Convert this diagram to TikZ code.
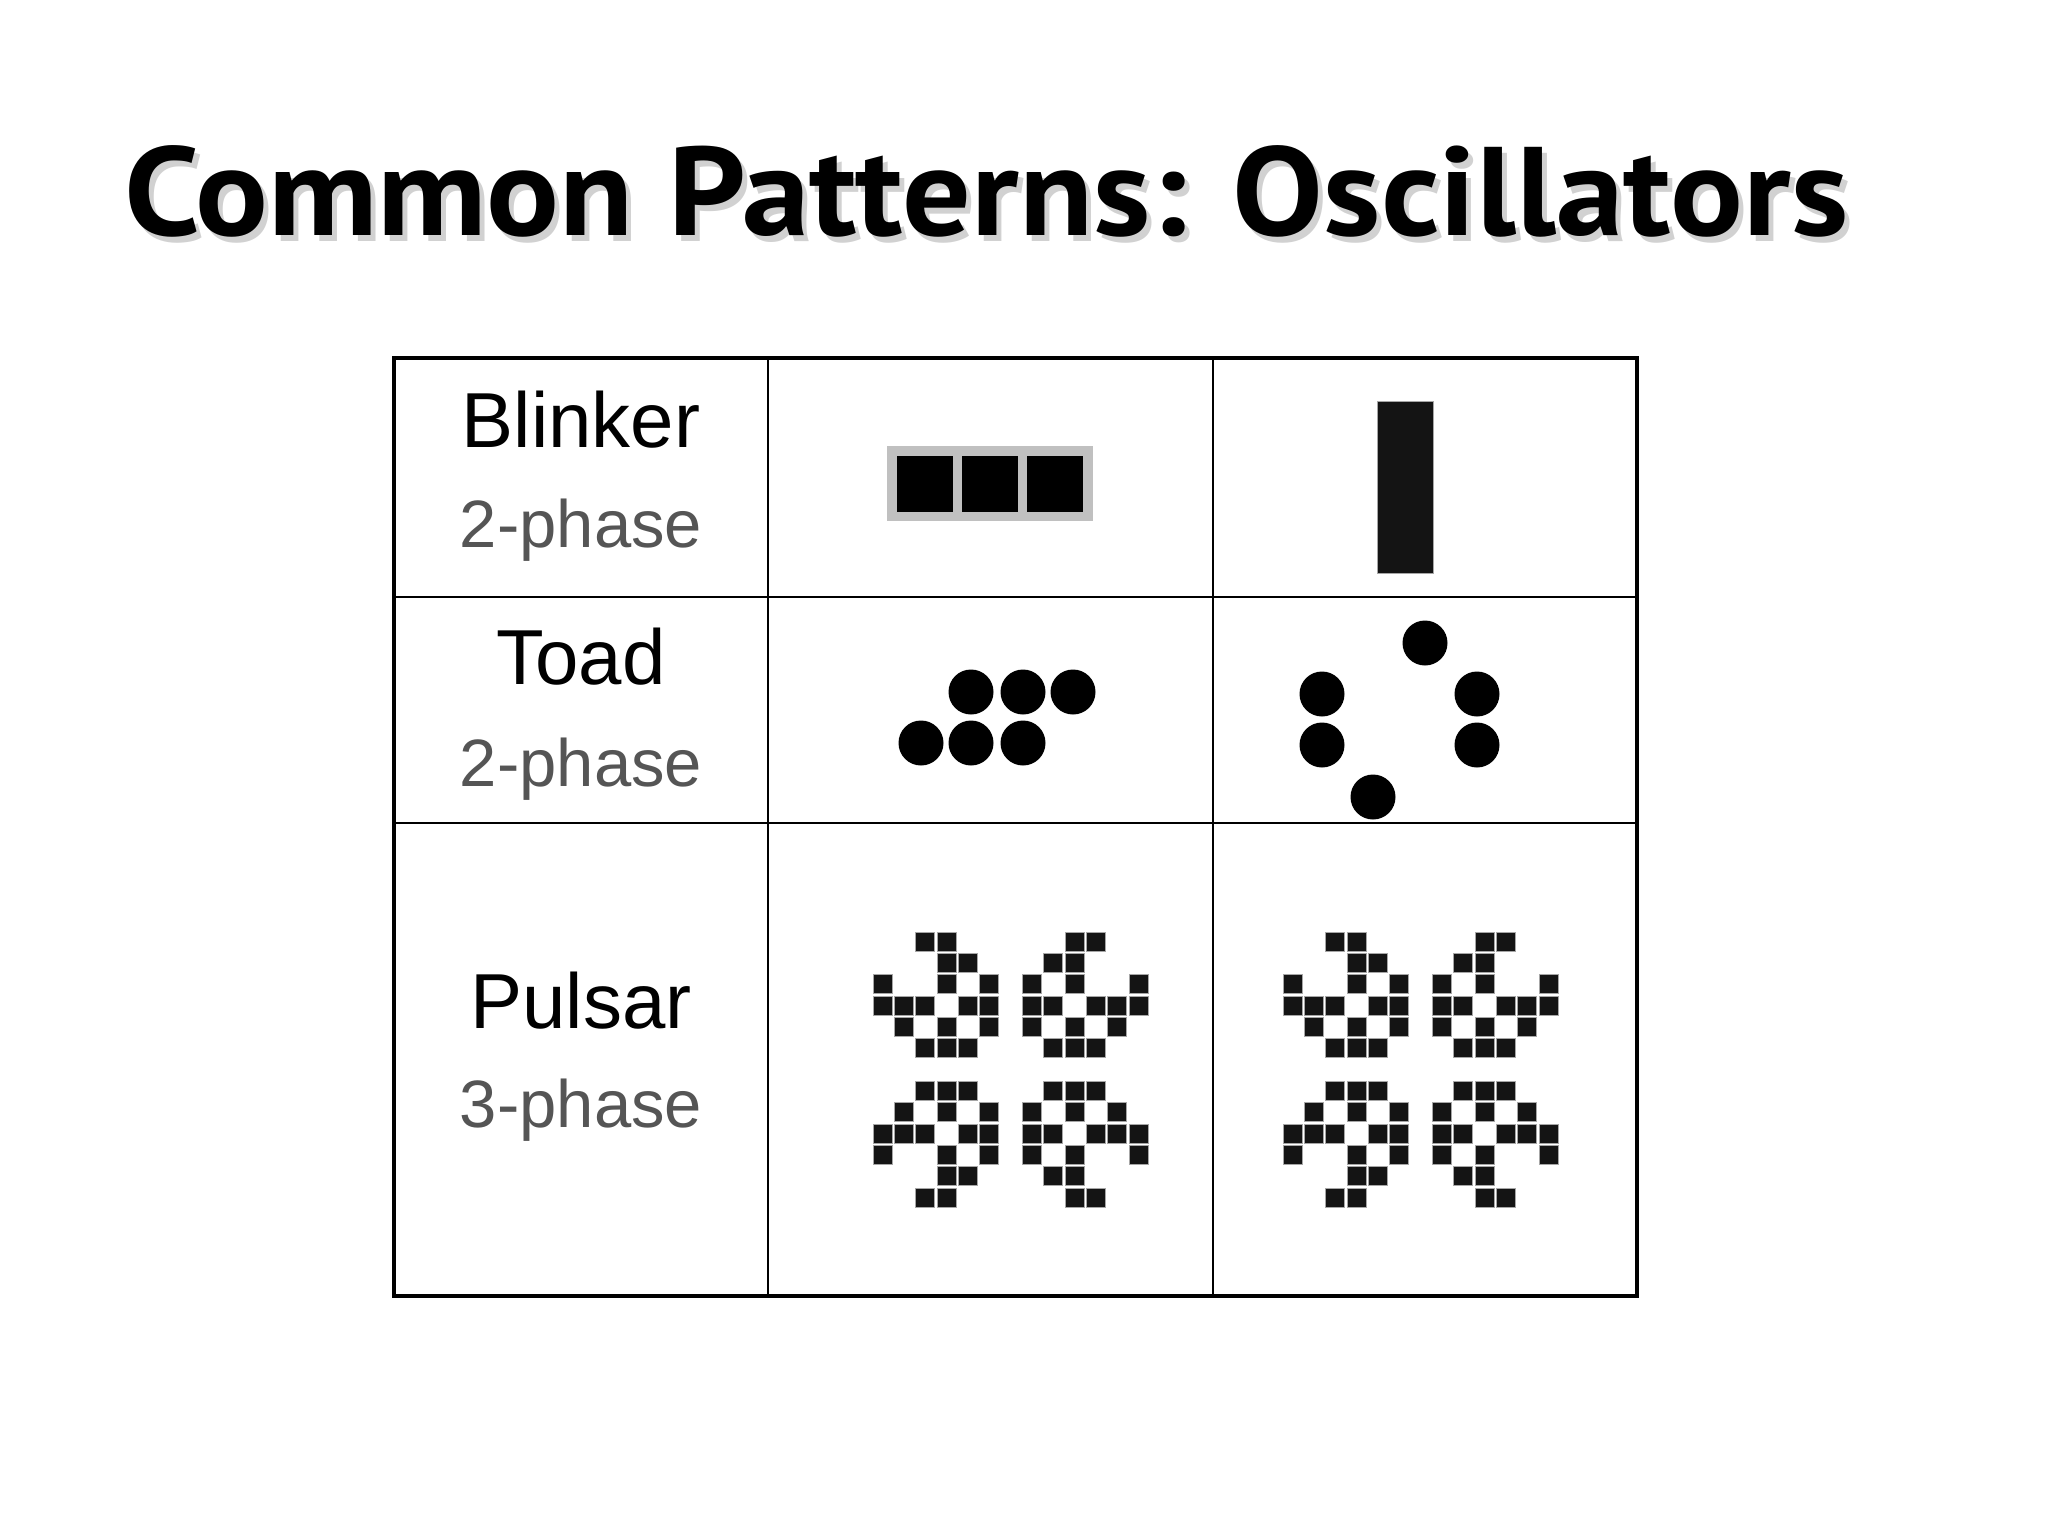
\documentclass[tikz,border=0pt]{standalone}
\usepackage{fontspec}
\usepackage{graphicx}
\setmainfont{Liberation Sans}
\newfontfamily\titlefont{PT Sans}
\usetikzlibrary{positioning}
\definecolor{phasegray}{RGB}{85,85,85}
\definecolor{blinkgray}{RGB}{192,192,192}

% title text, stretched to the slide width
\newcommand\slidetitle{\resizebox{1724pt}{\height}{Common Patterns: Oscillators}}

% one pulsar, #1/#2 = top left corner of its 13x13 grid
\newcommand\drawpulsar[2]{%
  \foreach \c/\r in {2/0,3/0,3/1,4/1,0/2,3/2,5/2,0/3,1/3,2/3,4/3,5/3,1/4,3/4,5/4,2/5,3/5,4/5}{
    \path[cell] (#1+\c*21.33,#2+\r*21.33) rectangle ++(19,19);
    \path[cell] (#1+12*21.33-\c*21.33,#2+\r*21.33) rectangle ++(19,19);
    \path[cell] (#1+\c*21.33,#2+12*21.33-\r*21.33) rectangle ++(19,19);
    \path[cell] (#1+12*21.33-\c*21.33,#2+12*21.33-\r*21.33) rectangle ++(19,19);
  }%
}

\begin{document}
\begin{tikzpicture}[x=1pt,y=-1pt,
    headline/.style={anchor=base west,inner sep=0pt,font=\titlefont\bfseries\fontsize{126}{130}\selectfont},
    patname/.style={anchor=base,inner sep=0pt,font=\fontsize{78}{80}\selectfont},
    phase/.style={anchor=base,inner sep=0pt,text=phasegray,font=\fontsize{67}{70}\selectfont},
    cell/.style={fill=black!92,draw=gray!70,line width=0.6pt},
    dot/.style={circle,fill=black,inner sep=0pt,minimum size=45pt}]
  \useasboundingbox (0,0) rectangle (2048,1536);

  % title with its shadow
  \node[headline,text=black!40,opacity=.45] (titleshadow) at (129,241) {\slidetitle};
  \node[headline] (titletext) at (124,235) {\slidetitle};

  % table
  \draw[line width=2.5pt] (768,358) -- (768,1296);
  \draw[line width=2.5pt] (1213,358) -- (1213,1296);
  \draw[line width=2.5pt] (394,597) -- (1637,597);
  \draw[line width=2.5pt] (394,823) -- (1637,823);
  \draw[line width=4.5pt] (394,358) rectangle (1637,1296);

  % names
  \node[patname] (blinker) at (581,447) {Blinker};
  \node[phase] (blinkerphase) at (581,547) {2-phase};
  \node[patname] (toad) at (581,684) {Toad};
  \node[phase] (toadphase) at (581,786) {2-phase};
  \node[patname] (pulsar) at (581,1028) {Pulsar};
  \node[phase] (pulsarphase) at (581,1127) {3-phase};

  % blinker
  \fill[blinkgray] (887,446) rectangle (1093,521);
  \fill[black] (897,456) rectangle ++(56,56);
  \fill[black] (962,456) rectangle ++(56,56);
  \fill[black] (1027,456) rectangle ++(56,56);
  \path[cell] (1377,401) rectangle (1433,573);

  % toad
  \node[dot] (ta1) at (971,692) {};
  \node[dot] (ta2) at (1023,692) {};
  \node[dot] (ta3) at (1073,692) {};
  \node[dot] (ta4) at (921,743) {};
  \node[dot] (ta5) at (971,743) {};
  \node[dot] (ta6) at (1023,743) {};
  \node[dot] (tb1) at (1425,643) {};
  \node[dot] (tb2) at (1322,694) {};
  \node[dot] (tb3) at (1322,745) {};
  \node[dot] (tb4) at (1477,694) {};
  \node[dot] (tb5) at (1477,745) {};
  \node[dot] (tb6) at (1373,797) {};

  % pulsar
  \drawpulsar{873}{932}
  \drawpulsar{1283}{932}
\end{tikzpicture}
\end{document}
